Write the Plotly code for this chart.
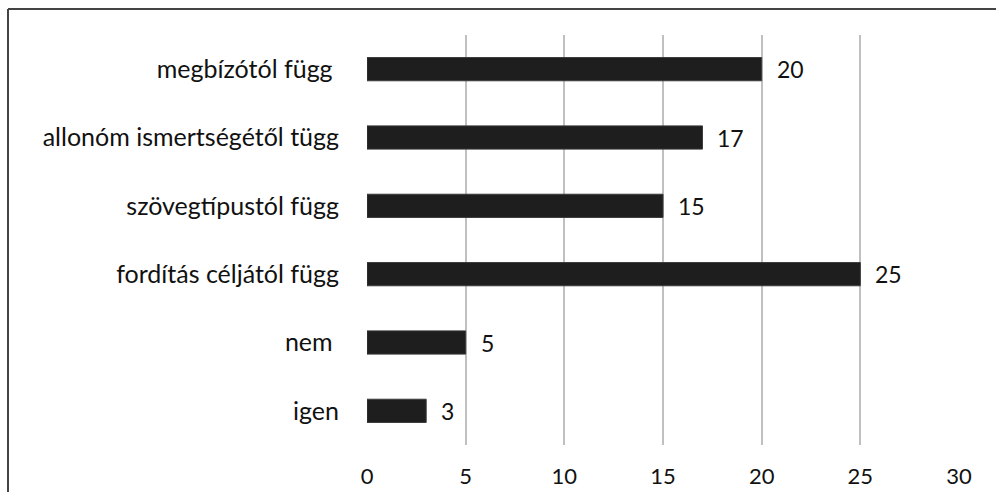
import plotly.graph_objects as go

categories = ["igen", "nem\u00a0", "fordítás céljától függ", "szövegtípustól függ",
              "allonóm ismertségétől tügg", "megbízótól függ\u00a0"]
values = [3, 5, 25, 15, 17, 20]
tick_vals = [0, 5, 10, 15, 20, 25, 30]

font = "Lato, 'Open Sans', sans-serif"
fs = 25

L, R, T, B = 367, 37, 35, 47
W, H = 996, 492
pw, ph = W - L - R, H - T - B
bx = (8 - L) / pw
by = (H - B - 9) / ph

fig = go.Figure()
fig.add_trace(go.Bar(
    y=categories, x=values, orientation="h",
    marker=dict(color="#1e1e1e", line=dict(color="#3a3a3a", width=1)),
    width=0.34, showlegend=False, hoverinfo="skip",
))
for c, v in zip(categories, values):
    fig.add_annotation(x=v, y=c, text=str(v), showarrow=False, xanchor="left",
                       xshift=13, font=dict(family=font, size=fs - 2, color="#111111"))

fig.update_layout(
    width=W, height=H,
    margin=dict(l=L, r=R, t=T, b=B),
    paper_bgcolor="white", plot_bgcolor="white",
    font=dict(family=font, size=fs, color="#111111"),
    xaxis=dict(range=[0, 30], tickvals=tick_vals, showgrid=True, gridcolor="#c0c0c0",
               gridwidth=2, zeroline=False, showline=False, ticks="outside", ticklen=12,
               tickcolor="rgba(0,0,0,0)", tickfont=dict(size=fs - 3), fixedrange=True,
               automargin=False),
    yaxis=dict(showgrid=False, zeroline=False, showline=False, ticks="outside",
               ticklen=22, tickcolor="rgba(0,0,0,0)", tickfont=dict(size=fs),
               categoryorder="array", categoryarray=categories, automargin=False,
               fixedrange=True),
    shapes=[dict(type="line", xref="paper", yref="paper", x0=bx, x1=1.2, y0=by, y1=by,
                 line=dict(color="#444444", width=2)),
            dict(type="line", xref="paper", yref="paper", x0=bx, x1=bx, y0=-0.3, y1=by,
                 line=dict(color="#444444", width=2))],
)
fig.write_html("out.html", config={"displayModeBar": False},
               post_script="document.body.style.margin='0';")
